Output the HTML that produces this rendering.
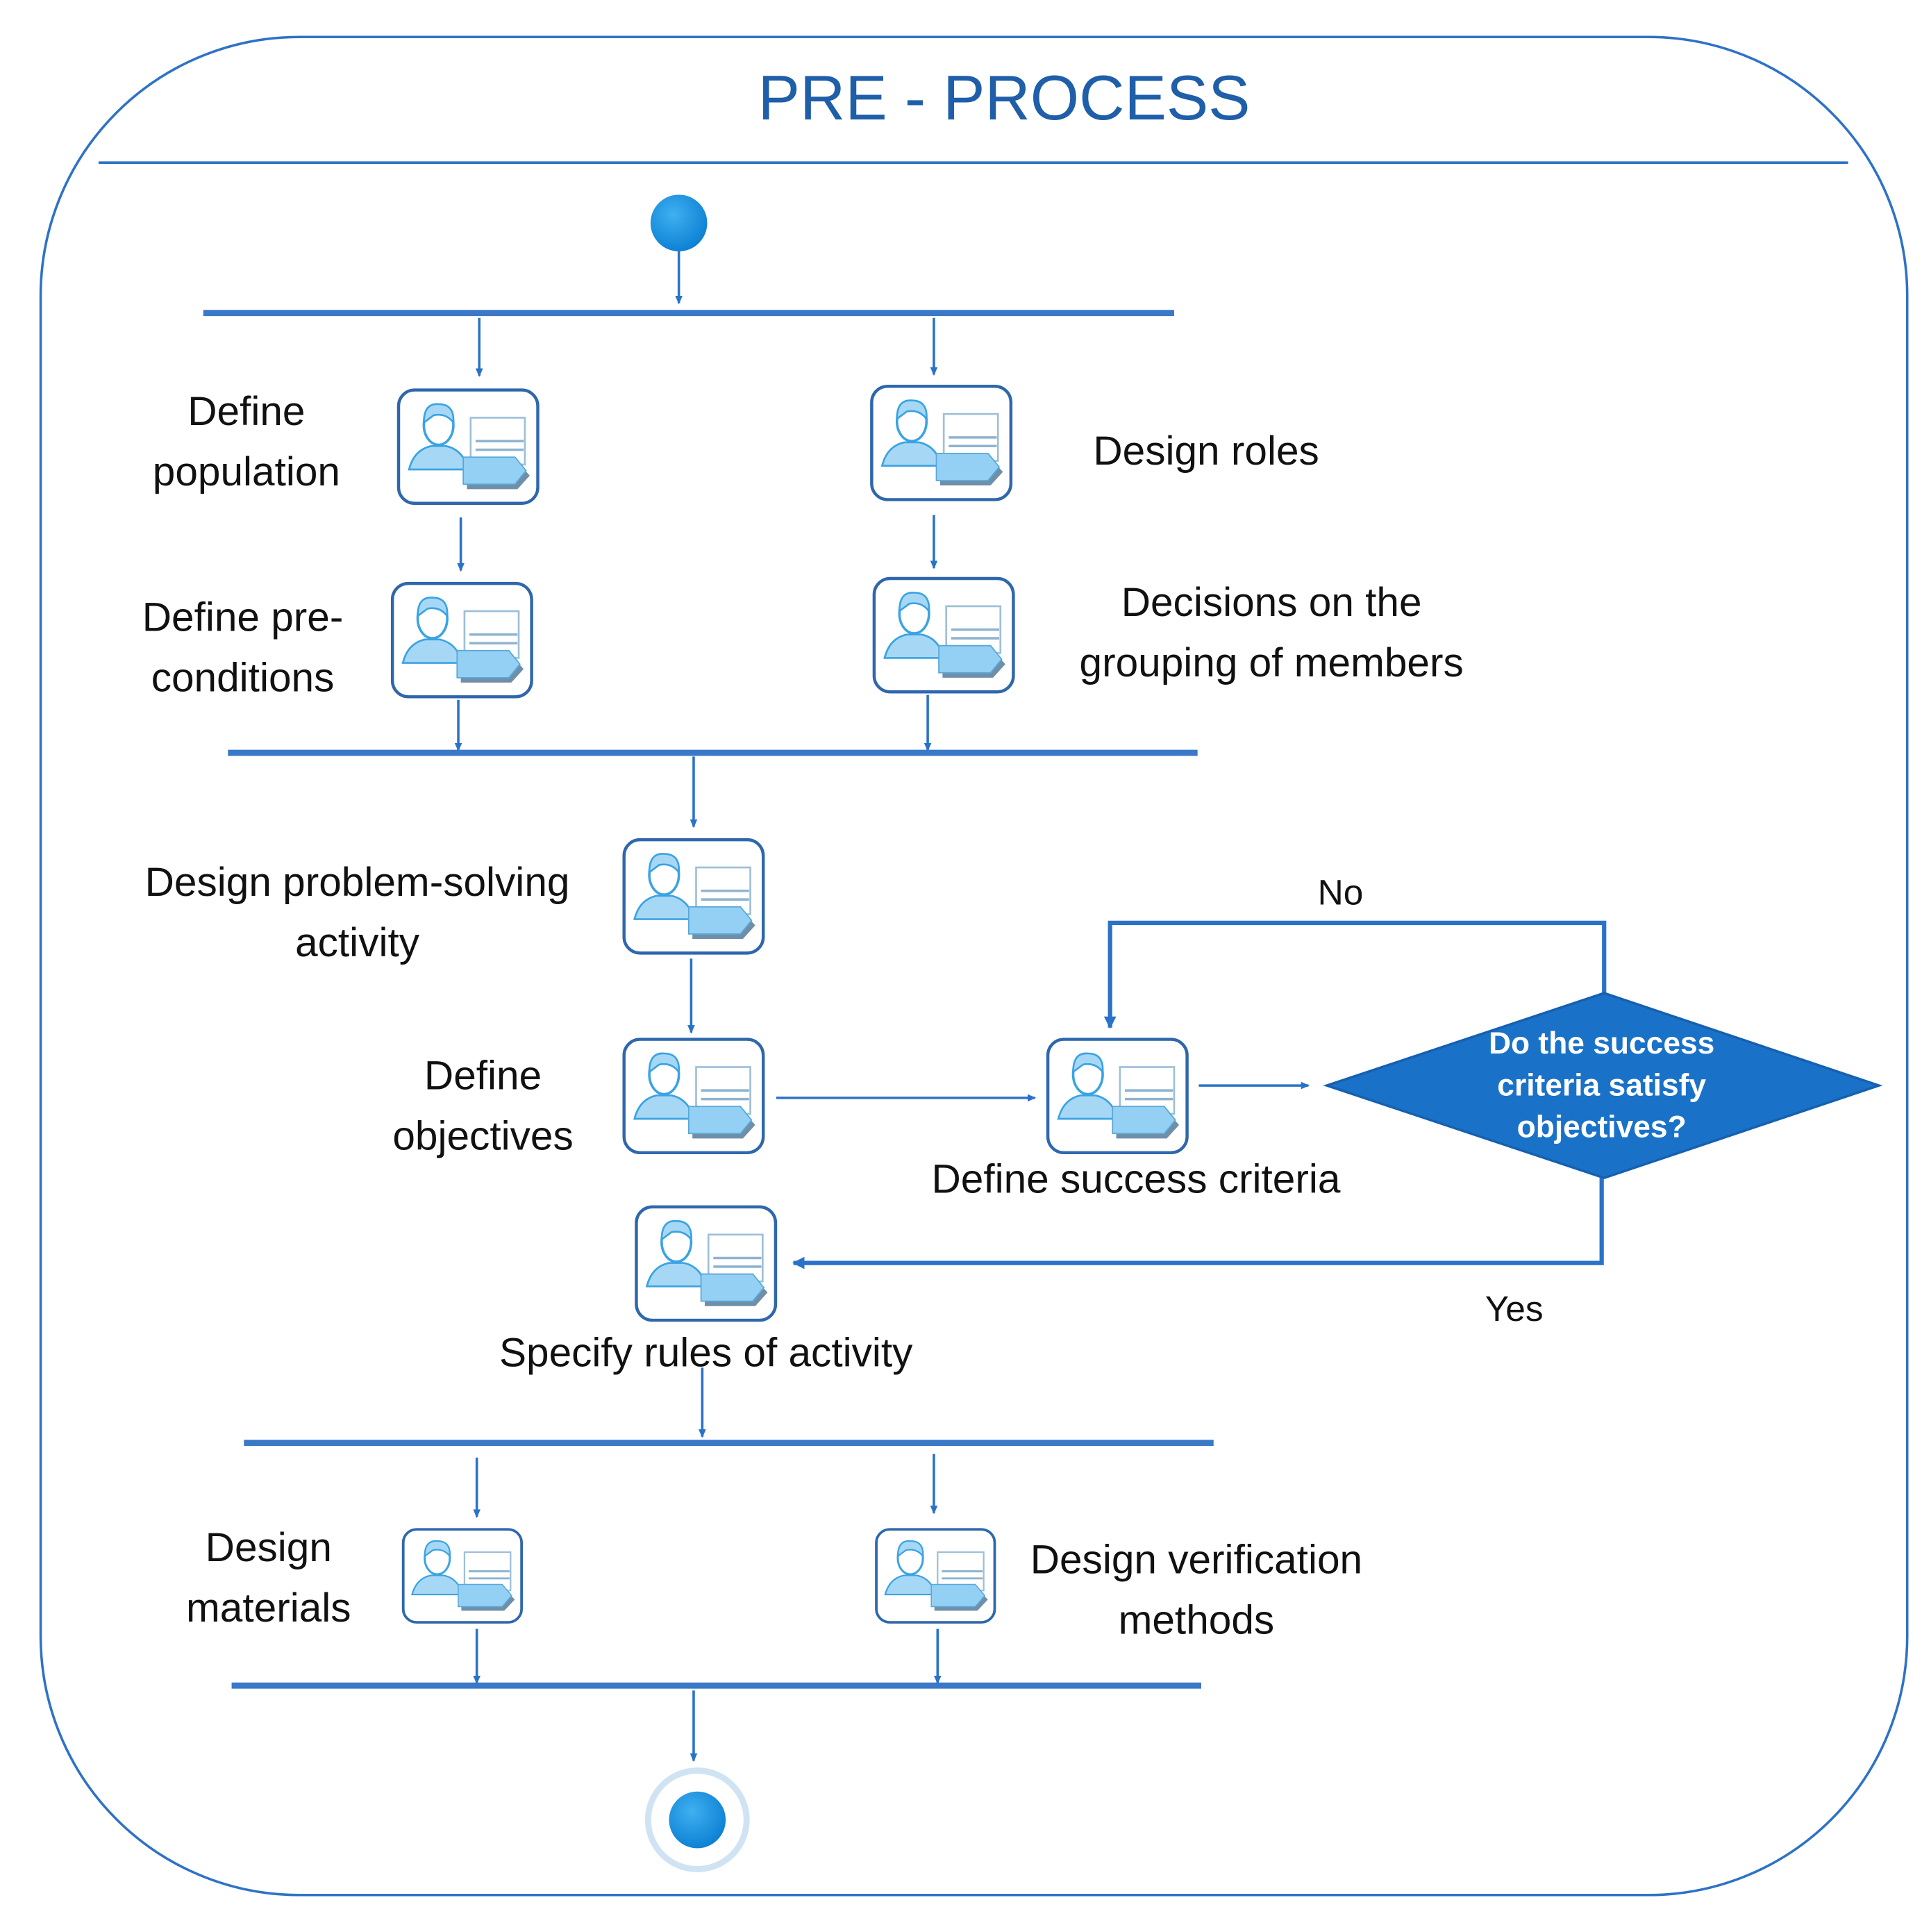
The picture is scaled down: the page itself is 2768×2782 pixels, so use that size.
<!DOCTYPE html>
<html><head><meta charset="utf-8"><style>
html,body{margin:0;padding:0;background:#fff;}
svg{display:block;}
text{font-family:"Liberation Sans",sans-serif;fill:#111;}
</style></head><body>
<svg width="2768" height="2782" viewBox="0 0 1560 1568" preserveAspectRatio="none" xmlns="http://www.w3.org/2000/svg">
<defs>
<marker id="ah" markerWidth="8" markerHeight="8" refX="6" refY="4" orient="auto" markerUnits="userSpaceOnUse"><path d="M0,1 L7,4 L0,7 Z" fill="#2a72c8"/></marker>
<marker id="ah2" markerWidth="12" markerHeight="12" refX="9" refY="6" orient="auto" markerUnits="userSpaceOnUse"><path d="M0,1 L10,6 L0,11 Z" fill="#2a72c8"/></marker>
<radialGradient id="bg" cx="0.4" cy="0.35" r="0.7"><stop offset="0" stop-color="#3fb0f0"/><stop offset="1" stop-color="#0a7ed3"/></radialGradient>
<g id="ic">
<rect x="1.5" y="1.5" width="113" height="92" rx="13" fill="#fff" stroke="#2f67ac" stroke-width="2.5"/>
<path d="M10,66 Q14,50 28,47 L40,47 Q54,50 58,66 Z" fill="#a6d8f6" stroke="#3aa3e3" stroke-width="1.5"/>
<ellipse cx="34" cy="30" rx="12" ry="16" fill="#fff" stroke="#3aa3e3" stroke-width="2"/>
<path d="M22,28 Q22,12 34,13 Q47,13 46,28 Q40,20 30,22 Z" fill="#a6d8f6" stroke="#3aa3e3" stroke-width="1.5"/>
<rect x="60" y="24" width="44" height="38" fill="#fff" stroke="#9ebfd8" stroke-width="1.5"/>
<line x1="64" y1="43" x2="103" y2="43" stroke="#8fb3cf" stroke-width="2"/>
<line x1="64" y1="50" x2="103" y2="50" stroke="#8fb3cf" stroke-width="2"/>
<path d="M57,60 L98,60 L108,71 L98,82 L57,82 Z" fill="#6f8fa8"/>
<path d="M54,56 L96,56 L105,67 L96,78 L54,78 Z" fill="#94d0f4" stroke="#5aa8d8" stroke-width="1"/>
</g>
</defs>

<rect x="33" y="30" width="1515" height="1508" rx="210" fill="none" stroke="#2e72c6" stroke-width="2"/>
<line x1="80" y1="132" x2="1500" y2="132" stroke="#2e72c6" stroke-width="2"/>
<text x="815" y="97" font-size="51" text-anchor="middle" style="fill:#1f5ea8">PRE - PROCESS</text>

<circle cx="551" cy="181" r="23" fill="url(#bg)"/>
<g stroke="#2a72c8" stroke-width="2" fill="none" marker-end="url(#ah)">
<line x1="551" y1="204" x2="551" y2="246"/>
<line x1="389" y1="258" x2="389" y2="305"/>
<line x1="758" y1="258" x2="758" y2="304"/>
<line x1="374" y1="420" x2="374" y2="463"/>
<line x1="758" y1="418" x2="758" y2="461"/>
<line x1="372" y1="568" x2="372" y2="609"/>
<line x1="753" y1="564" x2="753" y2="609"/>
<line x1="563" y1="614" x2="563" y2="671"/>
<line x1="561" y1="778" x2="561" y2="838"/>
<line x1="630" y1="891" x2="840" y2="891"/>
<line x1="973" y1="881" x2="1062" y2="881"/>
<line x1="570" y1="1110" x2="570" y2="1166"/>
<line x1="387" y1="1183" x2="387" y2="1231"/>
<line x1="758" y1="1180" x2="758" y2="1228"/>
<line x1="387" y1="1322" x2="387" y2="1366"/>
<line x1="761" y1="1322" x2="761" y2="1366"/>
<line x1="563" y1="1372" x2="563" y2="1429"/>
</g>
<g stroke="#3a78c8" stroke-width="5">
<line x1="165" y1="254" x2="953" y2="254"/>
<line x1="185" y1="611" x2="972" y2="611"/>
<line x1="198" y1="1171" x2="985" y2="1171"/>
<line x1="188" y1="1368" x2="975" y2="1368"/>
</g>

<g stroke="#2a72c8" stroke-width="3.5" fill="none">
<polyline points="1302,808 1302,749 901,749 901,834" marker-end="url(#ah2)"/>
<polyline points="1300,956 1300,1025 644,1025" marker-end="url(#ah2)"/>
</g>
<polygon points="1077,881 1302,806 1525,881 1302,956" fill="#1a72c8" stroke="#1660b0" stroke-width="2"/>
<g font-size="25" font-weight="bold" text-anchor="middle" style="fill:#fff">
<text x="1300" y="855" style="fill:#fff">Do the success</text>
<text x="1300" y="889" style="fill:#fff">criteria satisfy</text>
<text x="1300" y="923" style="fill:#fff">objectives?</text>
</g>

<use href="#ic" x="322" y="315"/>
<use href="#ic" x="706" y="312"/>
<use href="#ic" x="317" y="472"/>
<use href="#ic" x="708" y="468"/>
<use href="#ic" x="505" y="680"/>
<use href="#ic" x="505" y="842"/>
<use href="#ic" x="849" y="842"/>
<use href="#ic" x="515" y="978"/>
<use href="#ic" transform="translate(326,1240) scale(0.85,0.82)"/>
<use href="#ic" transform="translate(710,1240) scale(0.85,0.82)"/>

<g font-size="33" text-anchor="middle">
<text x="200" y="345">Define</text>
<text x="200" y="394">population</text>
<text x="979" y="377">Design roles</text>
<text x="197" y="512">Define pre-</text>
<text x="197" y="561">conditions</text>
<text x="1032" y="500">Decisions on the</text>
<text x="1032" y="549">grouping of members</text>
<text x="290" y="727">Design problem-solving</text>
<text x="290" y="776">activity</text>
<text x="392" y="884">Define</text>
<text x="392" y="933">objectives</text>
<text x="922" y="968">Define success criteria</text>
<text x="573" y="1109">Specify rules of activity</text>
<text x="218" y="1267">Design</text>
<text x="218" y="1316">materials</text>
<text x="971" y="1277">Design verification</text>
<text x="971" y="1326">methods</text>
<text x="1088" y="734" font-size="29">No</text>
<text x="1229" y="1072" font-size="29">Yes</text>
</g>

<circle cx="566" cy="1477" r="40" fill="#fff" stroke="#cfe3f3" stroke-width="5"/>
<circle cx="566" cy="1477" r="23" fill="url(#bg)"/>
</svg>
</body></html>
